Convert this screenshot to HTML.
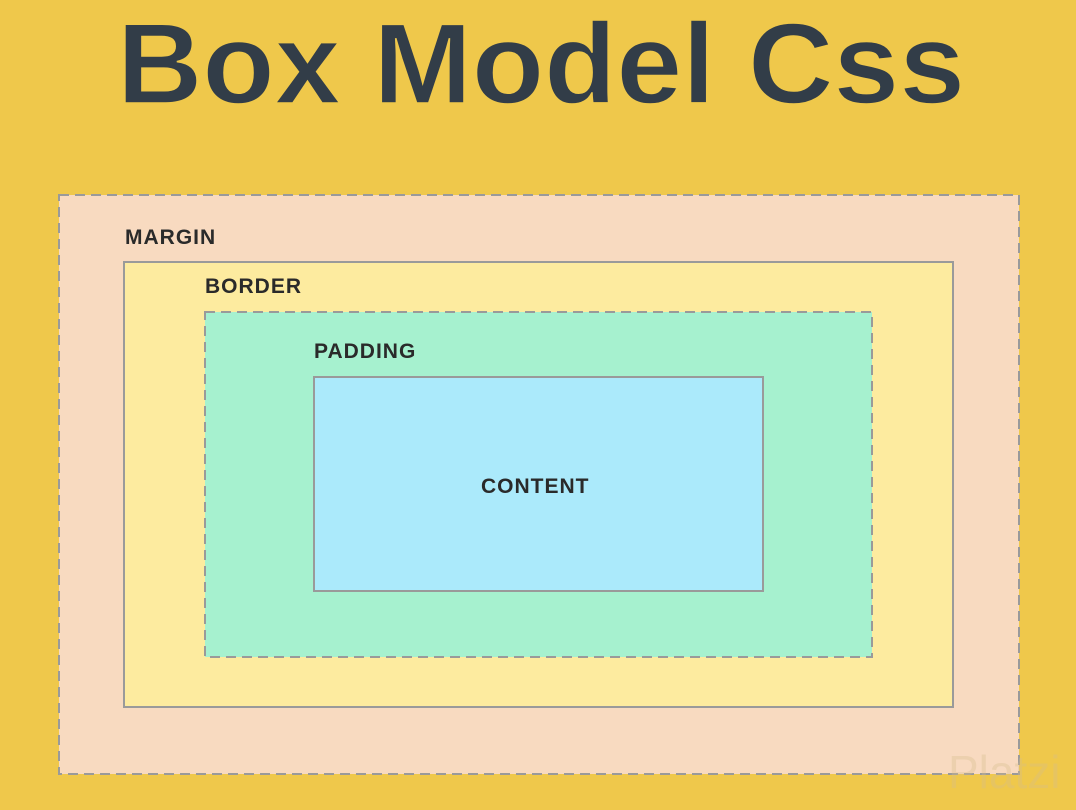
<!DOCTYPE html>
<html><head><meta charset="utf-8"><style>
html,body{margin:0;padding:0;}
body{width:1076px;height:810px;background:#efc84b;overflow:hidden;position:relative;font-family:"Liberation Sans",sans-serif;}
.lbl{position:absolute;font-weight:bold;font-size:21px;color:#2a2a2a;letter-spacing:1px;line-height:24px;}
</style></head><body>
<svg width="1076" height="810" style="position:absolute;left:0;top:0">
<text x="117" y="103" font-family="Liberation Sans, sans-serif" font-weight="bold" font-size="114" fill="#323d48" stroke="#efc84b" stroke-width="1.5" textLength="848" lengthAdjust="spacingAndGlyphs">Box Model Css</text>
<rect x="59" y="195" width="960" height="579" fill="#f8dac0" stroke="#9a9a9a" stroke-width="2" stroke-dasharray="10,6"/>
<rect x="124" y="262" width="829" height="445" fill="#fdeb9f" stroke="#9a9a9a" stroke-width="2"/>
<rect x="205" y="312" width="667" height="345" fill="#a6f1cf" stroke="#9a9a9a" stroke-width="2" stroke-dasharray="10,6"/>
<rect x="314" y="377" width="449" height="214" fill="#abeafb" stroke="#9a9a9a" stroke-width="2"/>
<text x="948" y="788" font-family="Liberation Sans, sans-serif" font-size="46" fill="rgba(215,190,140,0.35)">Platzi</text>
</svg>
<div class="lbl" style="left:125px;top:226px;">MARGIN</div>
<div class="lbl" style="left:205px;top:275px;">BORDER</div>
<div class="lbl" style="left:314px;top:340px;">PADDING</div>
<div class="lbl" style="left:481px;top:475px;">CONTENT</div>
</body></html>
